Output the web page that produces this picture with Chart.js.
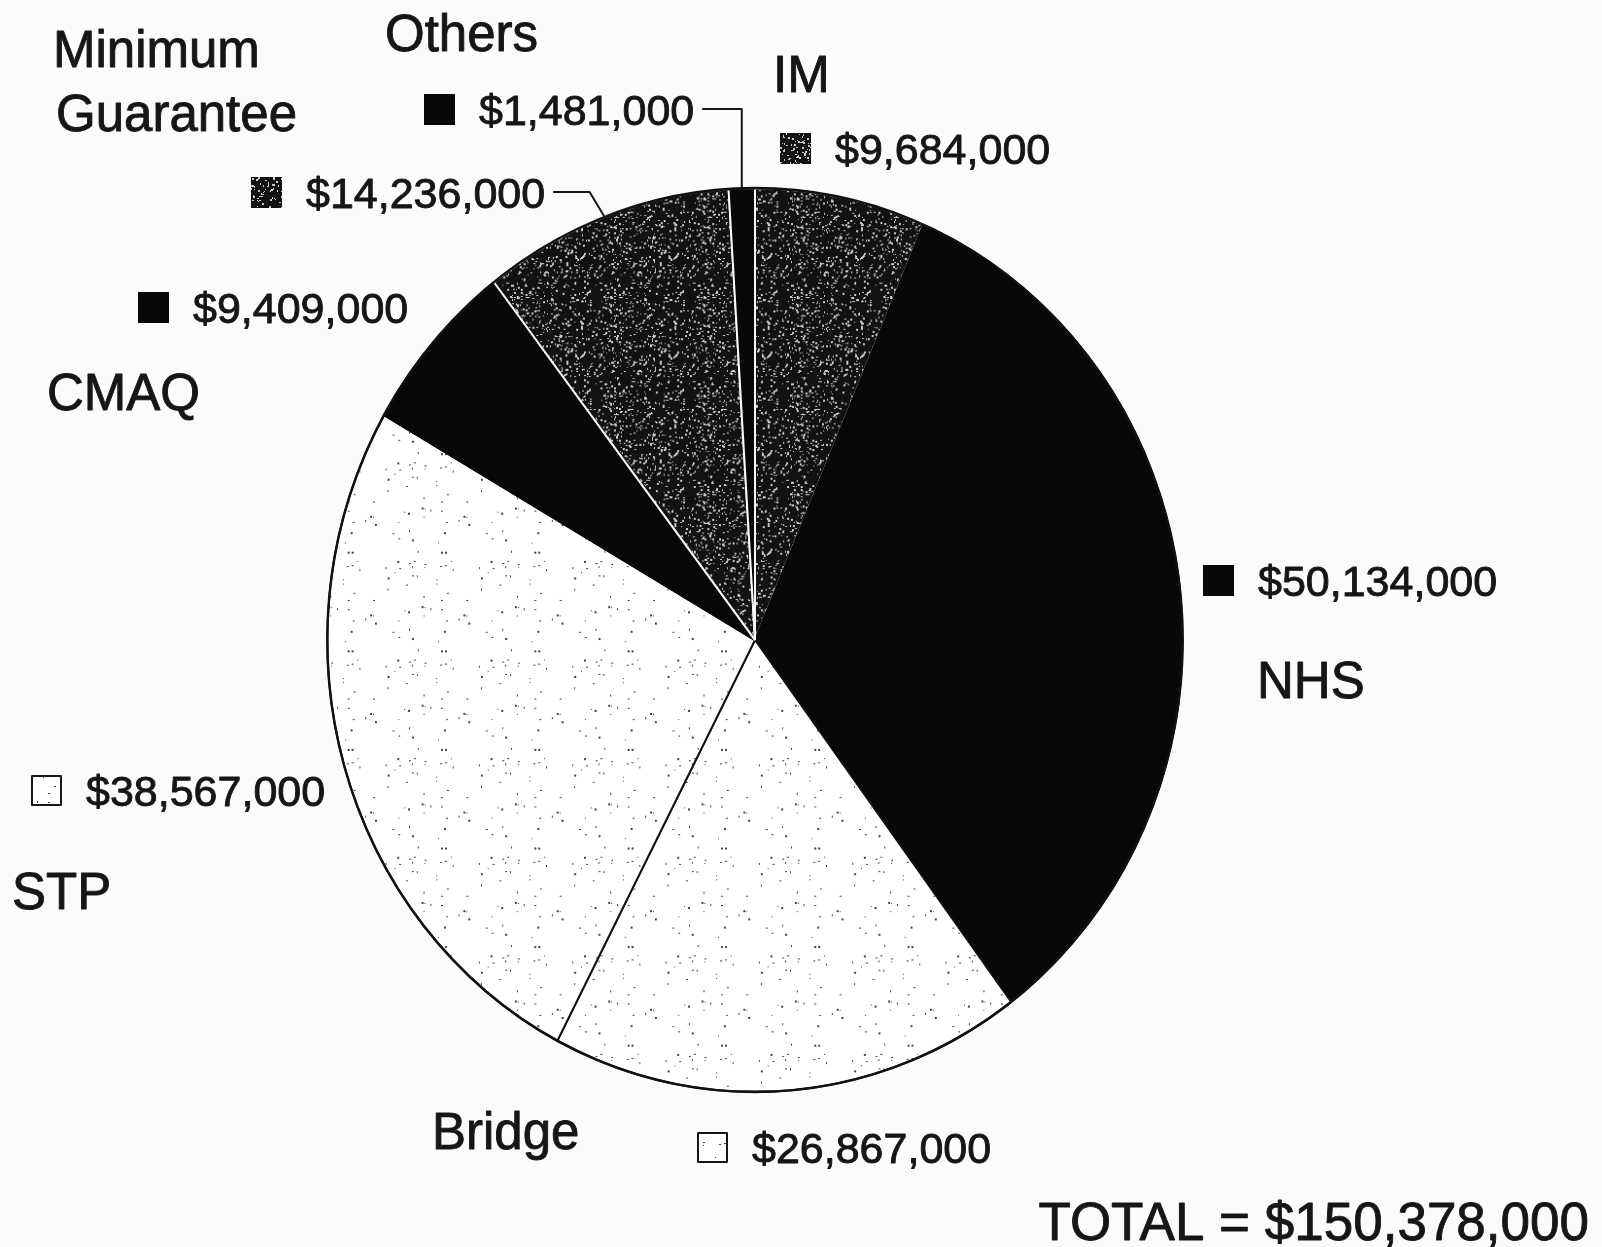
<!DOCTYPE html>
<html>
<head>
<meta charset="utf-8">
<script src="https://cdn.jsdelivr.net/npm/chart.js@4.4.0/dist/chart.umd.min.js"></script>
<style>
  html, body { margin: 0; padding: 0; background: #fbfbfb; }
  canvas { display: block; }
</style>
</head>
<body>
<canvas id="pie" width="1602" height="1247"></canvas>
<script>
// Programs, clockwise from 12 o'clock
const programs = ['IM', 'NHS', 'Bridge', 'STP', 'CMAQ', 'Minimum Guarantee', 'Others'];
const amounts = [9684000, 50134000, 26867000, 38567000, 9409000, 14236000, 1481000];
const totalAmount = 150378000;

// how each slice is filled
const fillKinds = ['dark', 'solid', 'light', 'light', 'solid', 'dark', 'solid'];
const edgeColors = ['#fbfbfb', '#080808', '#111', '#111', '#080808', '#fbfbfb', '#fbfbfb'];

// label placement (name lines + value box), same order as programs
const nameLayout = [
    { lines: ['IM'], x: 773, y: 92 },
    { lines: ['NHS'], x: 1257, y: 698 },
    { lines: ['Bridge'], x: 432, y: 1149 },
    { lines: ['STP'], x: 12, y: 909 },
    { lines: ['CMAQ'], x: 47, y: 410 },
    { lines: ['Minimum', 'Guarantee'], x: 53, y: 67 },
    { lines: ['Others'], x: 385, y: 51 }
];
const valueLayout = [
    { x: 780, y: 164 },
    { x: 1203, y: 596 },
    { x: 697, y: 1163 },
    { x: 31, y: 806 },
    { x: 138, y: 323 },
    { x: 251, y: 208 },
    { x: 424, y: 125 }
];
// slices whose value label has a leader line to the pie
const leaders = { 5: 'bent', 6: 'drop' };

const FONT = '"Liberation Sans", Arial, sans-serif';
const INK = '#161616';
// the scanned pie is a little taller than wide
const squashX = 0.972, stretchY = 1.027;

// stipple textures (deterministic specks)
function makePattern(base, speck, density, maxSize, seed) {
    const c = document.createElement('canvas');
    c.width = c.height = 96;
    const g = c.getContext('2d');
    g.fillStyle = base;
    g.fillRect(0, 0, 96, 96);
    let s = seed;
    const next = () => { s = (s * 16807) % 2147483647; return s / 2147483647; };
    g.fillStyle = speck;
    const n = Math.round(96 * 96 * density);
    for (let i = 0; i < n; i++) {
        const w = 1 + Math.floor(next() * maxSize);
        const h = 1 + Math.floor(next() * maxSize);
        g.fillRect(Math.floor(next() * 96), Math.floor(next() * 96), w, h);
    }
    return g.createPattern(c, 'repeat');
}

const darkFill = makePattern('#121212', '#c8c8c8', 0.06, 2, 12345);
const lightFill = makePattern('#ffffff', '#444', 0.005, 2, 777);
const fills = fillKinds.map(k => k === 'dark' ? darkFill : k === 'light' ? lightFill : '#080808');

function money(v) {
    return '$' + v.toLocaleString('en-US');
}

function inkText(ctx, txt, x, y) {
    ctx.fillText(txt, x, y);
    ctx.strokeText(txt, x, y);
}

// point on the (slightly elliptical) pie edge at the middle of slice i
function edgePoint(arc) {
    const mid = (arc.startAngle + arc.endAngle) / 2;
    return {
        x: arc.x + Math.cos(mid) * arc.outerRadius * squashX,
        y: arc.y + Math.sin(mid) * arc.outerRadius * stretchY
    };
}

const labelPlugin = {
    id: 'labels',
    beforeDatasetsDraw(chart) {
        const ctx = chart.ctx;
        const a0 = chart.getDatasetMeta(0).data[0];
        ctx.save();
        ctx.translate(a0.x, a0.y);
        ctx.scale(squashX, stretchY);
        ctx.translate(-a0.x, -a0.y);
    },
    afterDatasetsDraw(chart) {
        const ctx = chart.ctx;
        const a0 = chart.getDatasetMeta(0).data[0];
        // outline of the whole pie
        ctx.strokeStyle = '#111';
        ctx.lineWidth = 2.5;
        ctx.beginPath();
        ctx.arc(a0.x, a0.y, a0.outerRadius, 0, Math.PI * 2);
        ctx.stroke();
        ctx.restore();
    },
    afterDraw(chart) {
        const ctx = chart.ctx;
        const arcs = chart.getDatasetMeta(0).data;
        ctx.save();
        ctx.textBaseline = 'alphabetic';
        ctx.textAlign = 'left';
        ctx.lineJoin = 'round';

        programs.forEach((p, i) => {
            // category name
            const nl = nameLayout[i];
            ctx.font = '51px ' + FONT;
            ctx.fillStyle = INK;
            ctx.strokeStyle = INK;
            ctx.lineWidth = 0.9;
            nl.lines.forEach((line, j) => inkText(ctx, line, nl.x + (j ? 3 : 0), nl.y + j * 64));

            // legend square + amount
            const vl = valueLayout[i];
            const sq = 31;
            ctx.fillStyle = fills[i];
            ctx.fillRect(vl.x, vl.y - sq, sq, sq);
            if (fillKinds[i] === 'light') {
                ctx.strokeStyle = INK;
                ctx.lineWidth = 2;
                ctx.strokeRect(vl.x + 1, vl.y - sq + 1, sq - 2, sq - 2);
            }
            ctx.fillStyle = INK;
            ctx.strokeStyle = INK;
            ctx.lineWidth = 0.9;
            ctx.font = '43px ' + FONT;
            const txt = money(amounts[i]);
            const tx = vl.x + 55;
            inkText(ctx, txt, tx, vl.y);

            // leader line to the slice edge
            if (leaders[i]) {
                const e = edgePoint(arcs[i]);
                const lx = tx + ctx.measureText(txt).width + 8;
                const ly = vl.y - 16;
                ctx.lineWidth = 2;
                ctx.beginPath();
                ctx.moveTo(lx, ly);
                if (leaders[i] === 'drop') {
                    ctx.lineTo(e.x, ly);
                    ctx.lineTo(e.x, e.y);
                } else {
                    ctx.lineTo(e.x - 15, ly);
                    ctx.lineTo(e.x, e.y);
                }
                ctx.stroke();
            }
        });

        // total
        ctx.font = '53px ' + FONT;
        ctx.textAlign = 'right';
        ctx.fillStyle = INK;
        ctx.strokeStyle = INK;
        ctx.lineWidth = 0.9;
        inkText(ctx, 'TOTAL = ' + money(totalAmount), 1589, 1240);
        ctx.restore();
    }
};

const ctx = document.getElementById('pie').getContext('2d');
new Chart(ctx, {
    type: 'pie',
    data: {
        labels: programs,
        datasets: [{
            data: amounts,
            backgroundColor: fills,
            borderColor: edgeColors,
            borderWidth: 2,
            hoverOffset: 0
        }]
    },
    options: {
        responsive: false,
        animation: false,
        rotation: 0,
        events: [],
        layout: { padding: { left: 314, top: 199, right: 406, bottom: 166 } },
        plugins: {
            legend: { display: false },
            tooltip: { enabled: false }
        }
    },
    plugins: [labelPlugin]
});
</script>
</body>
</html>
